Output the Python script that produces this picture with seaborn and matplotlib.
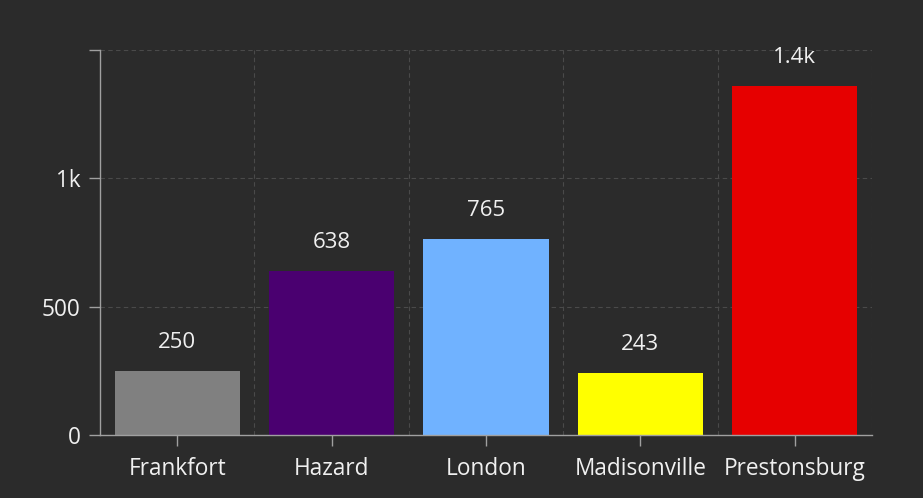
import matplotlib
matplotlib.use("Agg")
import matplotlib.pyplot as plt
import matplotlib.ticker as mticker
import seaborn as sns
import pandas as pd

# data
cities = ["Frankfort", "Hazard", "London", "Madisonville", "Prestonsburg"]
counts = [250, 638, 765, 243, 1358]
bar_colors = ["#808080", "#4a0070", "#70b2ff", "#ffff00", "#e60000"]
y_ticks = [0, 500, 1000, 1500]
y_tick_labels = ["0", "500", "1k", ""]

BG = "#2b2b2b"
FG = "#f0f0f0"
LINE = "#a0a0a0"

sns.set_theme(style="dark")
plt.rcParams["font.family"] = ["Open Sans", "DejaVu Sans"]

df = pd.DataFrame({"city": cities, "count": counts})

fig = plt.figure(figsize=(9.23, 4.98), dpi=100, facecolor=BG)
ax = fig.add_axes([100 / 923, 63 / 498, 772 / 923, 385 / 498])
ax.set_facecolor(BG)

sns.barplot(data=df, x="city", y="count", hue="city", palette=bar_colors,
            legend=False, width=0.81, saturation=1, linewidth=0,
            edgecolor="none", ax=ax)


def short(v):
    return f"{v / 1000:.1f}k" if v >= 1000 else f"{v:.0f}"


for c in ax.containers:
    ax.bar_label(c, labels=[short(b.get_height()) for b in c], padding=13,
                 color=FG, fontsize=16)

ax.set_ylim(0, 1500)
ax.set_xlim(-0.5, len(cities) - 0.5)
ax.yaxis.set_major_locator(mticker.FixedLocator(y_ticks))
ax.set_yticklabels(y_tick_labels)
ax.xaxis.set_minor_locator(mticker.FixedLocator([i + 0.5 for i in range(len(cities))]))

ax.grid(False)
ax.grid(axis="y", which="major", color="#4a4a4a", linestyle=(0, (4, 3)), linewidth=0.8)
ax.grid(axis="x", which="minor", color="#4a4a4a", linestyle=(0, (4, 3)), linewidth=0.8)
ax.set_axisbelow(True)

for s in ["top", "right"]:
    ax.spines[s].set_visible(False)
for s in ["left", "bottom"]:
    ax.spines[s].set_visible(True)
    ax.spines[s].set_color(LINE)
    ax.spines[s].set_linewidth(1)

ax.tick_params(axis="both", which="major", colors=LINE, labelcolor=FG,
               labelsize=16.3, length=8, width=1, bottom=True, left=True)
ax.tick_params(axis="x", which="major", pad=8)
ax.tick_params(axis="y", which="major", pad=6)
ax.tick_params(axis="x", which="minor", length=0)
ax.set_xlabel("")
ax.set_ylabel("")

fig.savefig("out.png", dpi=100, facecolor=BG)
